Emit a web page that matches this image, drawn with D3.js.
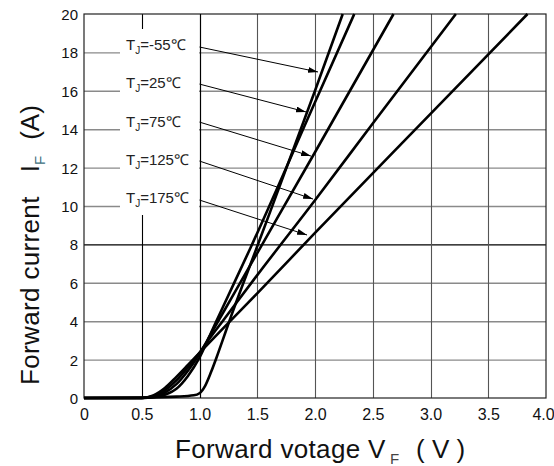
<!DOCTYPE html>
<html>
<head>
<meta charset="utf-8">
<script src="https://d3js.org/d3.v7.min.js"></script>
<style>
  body { margin: 0; background: #fff; }
  svg { display: block; font-family: "Liberation Sans", Arial, sans-serif; }
</style>
</head>
<body>
<svg id="chart" width="554" height="466"></svg>
<script>
// forward voltage (V) vs forward current (A)
var tempLabels = ['-55', '25', '75', '125', '175'];

var curveM55 = [[0, 0], [0.5, 0.02], [0.8, 0.07], [0.95, 0.14], [1.0, 0.25], [1.05, 0.65],
                [1.1, 1.35], [1.15, 2.15], [1.2, 3.0], [1.27, 4.2], [1.5, 7.9], [2.0, 16.0], [2.24, 20]];
var curve25  = [[0, 0], [0.5, 0], [0.6, 0.04], [0.7, 0.17], [0.8, 0.48], [0.9, 1.15], [1.0, 2.1],
                [1.1, 3.4], [1.2, 4.7], [1.44, 7.8], [2.0, 15.4], [2.34, 20]];
var curve75  = [[0, 0], [0.5, 0], [0.6, 0.07], [0.7, 0.28], [0.8, 0.72], [0.9, 1.42], [1.0, 2.3],
                [1.1, 3.35], [1.2, 4.4], [1.5, 7.55], [2.0, 12.8], [2.68, 20]];
var curve125 = [[0, 0], [0.5, 0], [0.6, 0.1], [0.7, 0.4], [0.8, 0.92], [0.9, 1.6], [1.0, 2.35],
                [1.1, 3.2], [1.2, 4.0], [1.5, 6.4], [2.0, 10.3], [2.5, 14.3], [3.22, 20]];
var curve175 = [[0, 0], [0.5, 0], [0.6, 0.13], [0.7, 0.52], [0.8, 1.1], [0.9, 1.72], [1.0, 2.35],
                [1.2, 3.6], [1.5, 5.45], [2.0, 8.6], [3.0, 14.8], [3.84, 20]];
var curves = [curveM55, curve25, curve75, curve125, curve175];

// label centre current, arrow start current, arrow tip [V, I]
var labelAt   = [18.4, 16.4, 14.4, 12.4, 10.4];
var arrowFrom = [18.28, 16.35, 14.37, 12.34, 10.31];
var arrowTip  = [[2.026, 16.98], [1.922, 14.9], [1.965, 12.6], [1.983, 10.36], [1.931, 8.49]];

var xTicks = [0, 0.5, 1.0, 1.5, 2.0, 2.5, 3.0, 3.5, 4.0];
var yTicks = [0, 2, 4, 6, 8, 10, 12, 14, 16, 18, 20];

var svg = d3.select('#chart');
var x = d3.scaleLinear().domain([0, 4]).range([84, 546]);
var y = d3.scaleLinear().domain([0, 20]).range([398, 14]);

svg.append('defs').append('marker')
    .attr('id', 'head')
    .attr('viewBox', '0 0 10 6')
    .attr('refX', 10).attr('refY', 3)
    .attr('markerWidth', 10).attr('markerHeight', 6)
    .attr('markerUnits', 'userSpaceOnUse')
    .attr('orient', 'auto')
  .append('path')
    .attr('d', 'M0,0L10,3L0,6Z')
    .attr('fill', '#000');

// grid
svg.append('g').selectAll('line').data(yTicks.slice(1, -1)).enter().append('line')
    .attr('x1', x(0)).attr('x2', x(4))
    .attr('y1', function (d) { return y(d) + 0.5; })
    .attr('y2', function (d) { return y(d) + 0.5; })
    .attr('stroke', function (d) { return d === 8 ? '#000' : '#8a8a8a'; })
    .attr('stroke-width', function (d) { return d === 8 ? 1.2 : 1.4; });

svg.append('g').selectAll('line').data(xTicks.slice(1, -1)).enter().append('line')
    .attr('y1', y(0)).attr('y2', y(20))
    .attr('x1', function (d) { return Math.round(x(d)) + 0.5; })
    .attr('x2', function (d) { return Math.round(x(d)) + 0.5; })
    .attr('stroke', function (d) { return d <= 1 ? '#000' : '#555'; })
    .attr('stroke-width', 1.1);

// frame
svg.append('rect')
    .attr('x', x(0)).attr('y', y(20))
    .attr('width', x(4) - x(0)).attr('height', y(0) - y(20))
    .attr('fill', 'none').attr('stroke', '#222').attr('stroke-width', 1.2);

// white box behind the labels
svg.append('rect')
    .attr('x', 120).attr('y', 29).attr('width', 79).attr('height', 186)
    .attr('fill', '#fff');
svg.append('line')
    .attr('x1', Math.round(x(1)) + 0.5).attr('x2', Math.round(x(1)) + 0.5)
    .attr('y1', y(0)).attr('y2', y(20))
    .attr('stroke', '#000').attr('stroke-width', 1.1);

// curves
var line = d3.line()
    .x(function (d) { return x(d[0]); })
    .y(function (d) { return y(d[1]); })
    .curve(d3.curveMonotoneX);

svg.append('g').selectAll('path').data(curves).enter().append('path')
    .attr('d', line)
    .attr('fill', 'none')
    .attr('stroke', '#000')
    .attr('stroke-width', 2.6)
    .attr('stroke-linejoin', 'round');

// labels and arrows
var ann = svg.append('g');
tempLabels.forEach(function (t, i) {
    var txt = ann.append('text')
        .attr('x', 126).attr('y', y(labelAt[i]) + 5)
        .attr('font-size', 15).attr('fill', '#222');
    txt.append('tspan').text('T');
    txt.append('tspan').attr('font-size', 10).attr('dy', 4).text('J');
    txt.append('tspan').attr('dy', -4).text('=' + t + '℃');

    ann.append('line')
        .attr('x1', x(1.0)).attr('y1', y(arrowFrom[i]))
        .attr('x2', x(arrowTip[i][0])).attr('y2', y(arrowTip[i][1]))
        .attr('stroke', '#000').attr('stroke-width', 1)
        .attr('marker-end', 'url(#head)');
});

// axes
var xAxis = svg.append('g')
    .attr('transform', 'translate(0,' + y(0) + ')')
    .call(d3.axisBottom(x).tickValues(xTicks).tickSize(0).tickPadding(11)
        .tickFormat(function (d) { return d === 0 ? '0' : d.toFixed(1); }));
var yAxis = svg.append('g')
    .attr('transform', 'translate(' + x(0) + ',0)')
    .call(d3.axisLeft(y).tickValues(yTicks).tickSize(0).tickPadding(6));
[xAxis, yAxis].forEach(function (a) {
    a.select('.domain').remove();
    a.selectAll('text').attr('font-family', '"Liberation Sans", Arial, sans-serif')
        .attr('fill', '#111');
});
xAxis.selectAll('text').attr('font-size', 16)
    .attr('dx', function (d) { return d === 4 ? -3 : 0; });
yAxis.selectAll('text').attr('font-size', 15).attr('dy', '0.36em');

// axis titles
var xt = svg.append('g').attr('font-size', 26).attr('fill', '#111');
xt.append('text').attr('x', 175).attr('y', 458).attr('letter-spacing', 0.35).text('Forward votage');
xt.append('text').attr('x', 368).attr('y', 458).text('V');
xt.append('text').attr('x', 390).attr('y', 464).attr('font-size', 15).attr('fill', '#444').text('F');
xt.append('text').attr('x', 416).attr('y', 458).attr('xml:space', 'preserve').text('( V )');

var yt = svg.append('text')
    .attr('transform', 'translate(39,385) rotate(-90)')
    .attr('text-anchor', 'start')
    .attr('font-size', 26).attr('fill', '#111');
yt.append('tspan').attr('letter-spacing', 0.35).text('Forward current');
yt.append('tspan').attr('dx', 24).text('I');
yt.append('tspan').attr('font-size', 15).attr('dy', 6).attr('fill', '#3d7080').text('F');
yt.append('tspan').attr('dy', -6).attr('dx', 16).text('(A)');
</script>
</body>
</html>
